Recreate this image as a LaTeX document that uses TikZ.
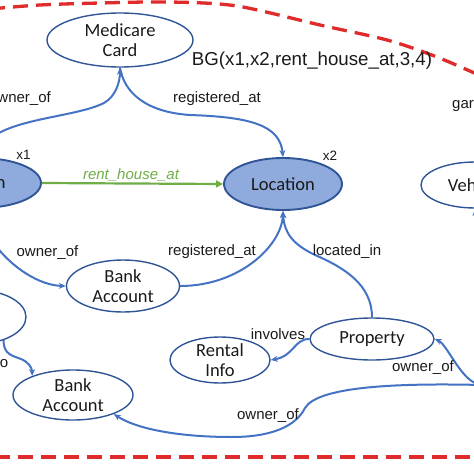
\documentclass[tikz,border=0pt]{standalone}
\usepackage{fontspec}
\setmainfont{Liberation Sans}
\newfontfamily\nodefont{Carlito}
\usetikzlibrary{shapes.geometric,arrows.meta}
\definecolor{edgeblue}{HTML}{4472C4}
\definecolor{borderblue}{HTML}{2F5597}
\definecolor{fillblue}{HTML}{8FAADC}
\definecolor{dashred}{HTML}{E02B2B}
\definecolor{relgreen}{HTML}{70AD47}
\definecolor{txt}{HTML}{1A1A1A}
\begin{document}
\begin{tikzpicture}[x=1pt,y=-1pt,
  ent/.style={ellipse, draw=borderblue, line width=1.4pt, inner sep=-6pt,
    font=\nodefont\fontsize{18.5}{19.5}\selectfont, text=txt, align=center},
  keyent/.style={ent, fill=fillblue, line width=1.9pt},
  link/.style={draw=edgeblue, line width=2pt, -{Stealth[length=7pt,width=6pt]}},
  greenlink/.style={draw=relgreen, line width=2.2pt, -{Triangle[length=7pt,width=7pt]}},
  lbl/.style={font=\fontsize{15}{17}\selectfont, text=txt, inner sep=0pt},
  bgline/.style={draw=dashred, line width=3.3pt, dash pattern=on 15pt off 8pt}]
\useasboundingbox (0,0) rectangle (474,474);
\clip (0,0) rectangle (474,474);

% background-graph frame
\draw[bgline] plot[smooth] coordinates {(-10,9) (40,5) (100,3) (170,2) (237,6) (320,25) (387,40) (437,57) (490,80)};
\draw[bgline] (-5,457) -- (480,457);

% entities
\node[ent, minimum width=146pt, minimum height=54pt] (mc) at (120,40) {Medicare\\Card};
\node[keyent, minimum width=122pt, minimum height=50pt] (pe) at (-20,183) {Person};
\node[keyent, minimum width=118pt, minimum height=52pt] (lo) at (283,184) {Location};
\node[ent, minimum width=113pt, minimum height=52pt] (ba1) at (123,286) {Bank\\Account};
\node[ent, minimum width=100pt, minimum height=54pt] (lm) at (-24,317) {};
\node[ent, minimum width=120pt, minimum height=50pt] (ba2) at (73,395) {Bank\\Account};
\node[ent, minimum width=100pt, minimum height=46pt] (ri) at (220,360) {Rental\\Info};
\node[ent, minimum width=124pt, minimum height=42pt] (pr) at (372,339) {Property};
\node[ent, minimum width=108pt, minimum height=46pt] (ve) at (475,185) {Vehicle};
\coordinate (rt) at (482,385);
\coordinate (rv) at (500,235);

% connectors
\draw[link] (pe.north) .. controls (-16,118) and (70,120) .. (104,103) .. controls (116,96) and (120,82) .. (mc.south);
\draw[link] (mc.south) .. controls (124,92) and (145,112) .. (190,115) .. controls (250,117) and (280,125) .. (lo.north);
\draw[greenlink] (pe.east) -- (lo.west);
\draw[link] (pe.south) .. controls (-17,245) and (28,285) .. (ba1.west);
\draw[link] (ba1.east) .. controls (240,286) and (282,245) .. (lo.south);
\draw[link] (pr.north) .. controls (372,285) and (345,268) .. (315,255) .. controls (292,244) and (284,232) .. (lo.south);
\draw[link] (pr.west) .. controls (294,339) and (294,356) .. (ri.east);
\draw[link] (rt) .. controls (462,384) and (448,345) .. (pr.east);
\draw[link] (rt) .. controls (400,383) and (318,386) .. (305,408) .. controls (296,426) and (272,437) .. (232,437) .. controls (175,437) and (135,428) .. (ba2.-25);
\draw[link] (lm.-40) .. controls (3,355) and (14,356) .. (21,359) .. controls (28,362) and (32,367) .. (ba2.155);
\draw[link] (rv) .. controls (485,228) and (476,222) .. (ve.south);

% labels
\node[lbl, anchor=east] (t1) at (51,99) {owner\_of};
\node[lbl] (t2) at (217,99) {registered\_at};
\node[lbl, font=\fontsize{18.7}{20}\selectfont] (bg) at (312,61) {BG(x1,x2,rent\_house\_at,3,4)};
\node[lbl, font=\fontsize{13.5}{15}\selectfont] (x1) at (23.5,155) {x1};
\node[lbl, font=\fontsize{13.5}{15}\selectfont] (x2) at (330,156) {x2};
\node[lbl, text=relgreen, font=\fontsize{15}{17}\selectfont\itshape] (t3) at (131,175) {rent\_house\_at};
\node[lbl] (t4) at (47.5,253) {owner\_of};
\node[lbl] (t5) at (212,252) {registered\_at};
\node[lbl] (t6) at (347,252) {located\_in};
\node[lbl] (t7) at (278,334) {involves};
\node[lbl] (t8) at (423,368) {owner\_of};
\node[lbl] (t9) at (268,416) {owner\_of};
\node[lbl, anchor=east] (t10) at (8.5,364) {related\_to};
\node[lbl, anchor=west] (t11) at (452,105) {garaged\_at};
\end{tikzpicture}
\end{document}
